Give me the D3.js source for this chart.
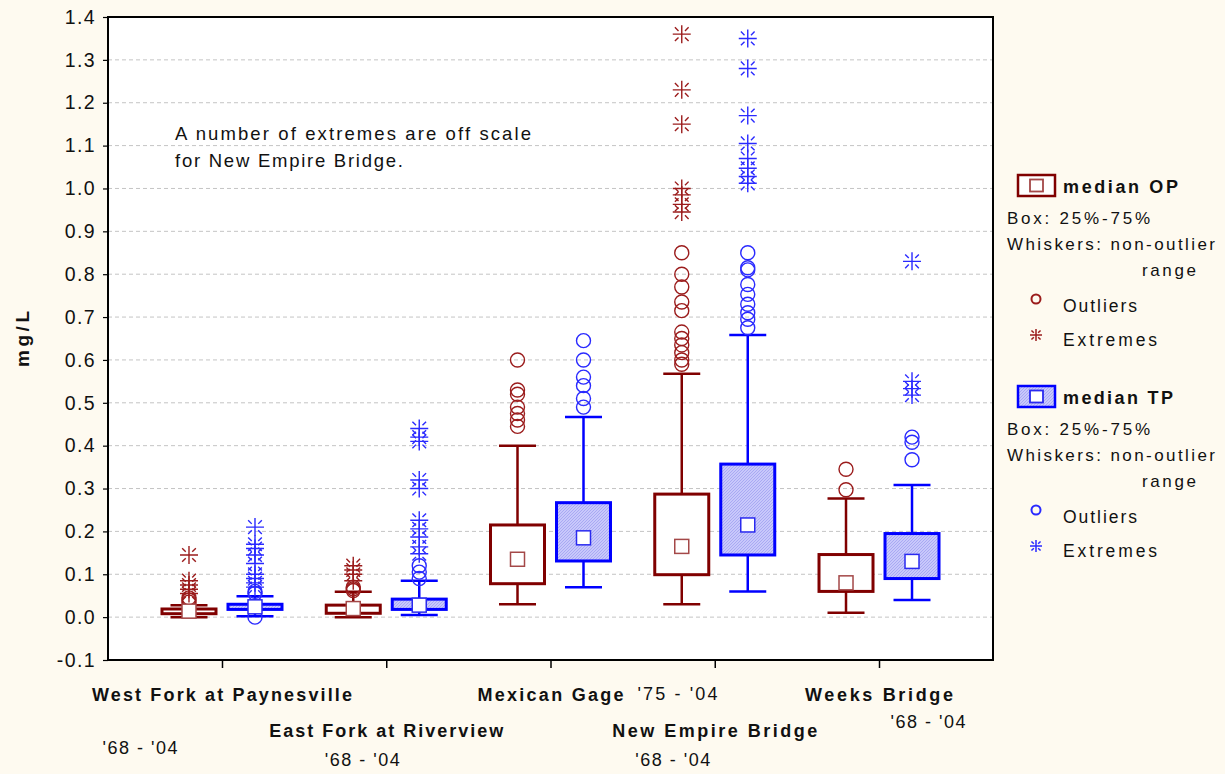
<!DOCTYPE html>
<html>
<head>
<meta charset="utf-8">
<script src="https://cdn.jsdelivr.net/npm/d3@7"></script>
<style>
  html, body { margin: 0; padding: 0; background: #fefaf0; }
  svg { display: block; }
  text { font-family: "Liberation Sans", Arial, sans-serif; fill: #111; }
</style>
</head>
<body>
<svg id="chart" width="1225" height="774"></svg>
<script>
// Sampling sites and their record periods
const sites = ["West Fork at Paynesville", "East Fork at Riverview", "Mexican Gage", "New Empire Bridge", "Weeks Bridge"];
const periods = ["'68 - '04", "'68 - '04", "'75 - '04", "'68 - '04", "'68 - '04"];

// Orthophosphate (OP), mg/L
const opMin    = [0.0,   0.0,   0.03,  0.03,  0.01];
const opQ1     = [0.008, 0.009, 0.078, 0.099, 0.06];
const opMedian = [0.014, 0.02,  0.135, 0.165, 0.08];
const opQ3     = [0.019, 0.028, 0.215, 0.287, 0.146];
const opMax    = [0.028, 0.059, 0.40,  0.568, 0.277];
const opOutliers = [
  [0.035, 0.04, 0.045],
  [0.062, 0.066, 0.07],
  [0.60, 0.53, 0.52, 0.49, 0.475, 0.46, 0.445],
  [0.85, 0.80, 0.77, 0.735, 0.715, 0.665, 0.65, 0.635, 0.617, 0.60, 0.59],
  [0.345, 0.297]
];
const opExtremes = [
  [0.145, 0.085, 0.075, 0.065, 0.055],
  [0.12, 0.11, 0.10, 0.085],
  [],
  [1.36, 1.23, 1.15, 1.0, 0.985, 0.963, 0.945],
  []
];

// Total phosphorus (TP), mg/L
const tpMin    = [0.002, 0.005, 0.07,  0.06,  0.04];
const tpQ1     = [0.018, 0.018, 0.131, 0.145, 0.09];
const tpMedian = [0.024, 0.028, 0.185, 0.215, 0.13];
const tpQ3     = [0.030, 0.042, 0.267, 0.357, 0.195];
const tpMax    = [0.049, 0.085, 0.467, 0.658, 0.308];
const tpOutliers = [
  [0.0, 0.055, 0.06],
  [0.09, 0.105, 0.12],
  [0.645, 0.60, 0.56, 0.54, 0.51, 0.49],
  [0.85, 0.815, 0.81, 0.776, 0.753, 0.73, 0.71, 0.695, 0.675],
  [0.42, 0.408, 0.367]
];
const tpExtremes = [
  [0.21, 0.17, 0.16, 0.145, 0.125, 0.10, 0.09, 0.08, 0.07],
  [0.44, 0.42, 0.41, 0.32, 0.30, 0.226, 0.206, 0.187, 0.164, 0.148],
  [],
  [1.35, 1.28, 1.17, 1.105, 1.07, 1.047, 1.028, 1.012],
  [0.83, 0.55, 0.533, 0.518]
];

const yTicks = [-0.1, 0.0, 0.1, 0.2, 0.3, 0.4, 0.5, 0.6, 0.7, 0.8, 0.9, 1.0, 1.1, 1.2, 1.3, 1.4];

const series = [
  { key: "OP", min: opMin, q1: opQ1, med: opMedian, q3: opQ3, max: opMax, out: opOutliers, ext: opExtremes },
  { key: "TP", min: tpMin, q1: tpQ1, med: tpMedian, q3: tpQ3, max: tpMax, out: tpOutliers, ext: tpExtremes }
];

const style = {
  OP: { line: "#800000", box: "#ffffff", med: "#a44848", marker: "#9b1c1c" },
  TP: { line: "#0000ff", box: "url(#hatch)", med: "#2a2af0", marker: "#2a2aff" }
};

const svg = d3.select("#chart");
const plot = { left: 108, right: 993, top: 17, bottom: 660 };

// text helper: fixed run length, spread by letter spacing
function fit(sel, len) {
  return sel.attr("textLength", len).attr("lengthAdjust", "spacing");
}

// Fine diagonal hatch for the TP boxes
const defs = svg.append("defs");
const pat = defs.append("pattern").attr("id", "hatch").attr("patternUnits", "userSpaceOnUse")
  .attr("width", 3).attr("height", 3);
pat.append("rect").attr("width", 3).attr("height", 3).attr("fill", "#c8c8fb");
pat.append("path").attr("d", "M0,3 L3,0").attr("stroke", "#a6a6f2").attr("stroke-width", 0.9);

const y = d3.scaleLinear().domain([-0.1, 1.4]).range([plot.bottom, plot.top]);
const x = d3.scalePoint().domain(sites).range([plot.left, plot.right]).padding(0.694);
const inner = d3.scalePoint().domain(["OP", "TP"]).range([-33, 33]);

const boxHalf = 27, capHalf = 18.5, medHalf = 7;

// plot background
svg.append("rect").attr("x", plot.left).attr("y", plot.top)
  .attr("width", plot.right - plot.left).attr("height", plot.bottom - plot.top)
  .attr("fill", "#ffffff");

// horizontal grid
svg.append("g").selectAll("line").data(yTicks.slice(1, -1)).join("line")
  .attr("x1", plot.left).attr("x2", plot.right)
  .attr("y1", d => y(d)).attr("y2", d => y(d))
  .attr("stroke", "#c4c4c4").attr("stroke-width", 1).attr("stroke-dasharray", "4,3");

// y axis
const fmt = d3.format(".1f");
const yAxis = svg.append("g").attr("transform", `translate(${plot.left},0)`)
  .call(d3.axisLeft(y).tickValues(yTicks).tickSize(5).tickPadding(9)
    .tickFormat(d => fmt(d).replace("\u2212", "-")));
yAxis.select(".domain").remove();
yAxis.selectAll(".tick line").attr("stroke", "#000").attr("stroke-width", 1.2);
yAxis.selectAll(".tick text").attr("font-size", 19.5).attr("letter-spacing", 1.4)
  .attr("font-family", "Liberation Sans, Arial, sans-serif").attr("fill", "#111").attr("dx", 2);

// x axis ticks
const xAxis = svg.append("g").attr("transform", `translate(0,${plot.bottom})`)
  .call(d3.axisBottom(x).tickSize(8).tickFormat(""));
xAxis.select(".domain").remove();
xAxis.selectAll(".tick line").attr("stroke", "#000").attr("stroke-width", 1.5);

// box plots
series.forEach(s => {
  const st = style[s.key];
  const g = svg.append("g").attr("class", "series-" + s.key);
  sites.forEach((site, i) => {
    const cx = x(site) + inner(s.key);
    // whiskers
    g.append("line").attr("x1", cx).attr("x2", cx).attr("y1", y(s.q3[i])).attr("y2", y(s.max[i]))
      .attr("stroke", st.line).attr("stroke-width", 2.5);
    g.append("line").attr("x1", cx).attr("x2", cx).attr("y1", y(s.q1[i])).attr("y2", y(s.min[i]))
      .attr("stroke", st.line).attr("stroke-width", 2.5);
    [s.max[i], s.min[i]].forEach(v => {
      g.append("line").attr("x1", cx - capHalf).attr("x2", cx + capHalf).attr("y1", y(v)).attr("y2", y(v))
        .attr("stroke", st.line).attr("stroke-width", 2.5);
    });
    // box
    g.append("rect").attr("x", cx - boxHalf).attr("y", y(s.q3[i]))
      .attr("width", boxHalf * 2).attr("height", Math.max(1, y(s.q1[i]) - y(s.q3[i])))
      .attr("fill", st.box).attr("stroke", st.line).attr("stroke-width", 3);
    // outliers
    g.append("g").selectAll("circle").data(s.out[i]).join("circle")
      .attr("cx", cx).attr("cy", d => y(d)).attr("r", 7)
      .attr("fill", "none").attr("stroke", st.marker).attr("stroke-width", 1.4);
    // extremes
    g.append("g").selectAll("path").data(s.ext[i]).join("path")
      .attr("transform", d => `translate(${cx},${y(d)})`)
      .attr("d", asterisk(9))
      .attr("fill", "none").attr("stroke", st.marker).attr("stroke-width", 1.4);
    // median square
    g.append("rect").attr("x", cx - medHalf).attr("y", y(s.med[i]) - medHalf)
      .attr("width", medHalf * 2).attr("height", medHalf * 2)
      .attr("fill", "#ffffff").attr("stroke", st.med).attr("stroke-width", 1.5);
  });
});

function asterisk(r) {
  const a = r * 0.36, b = r * 0.76;
  return `M${-r},0H${r}M0,${-r}V${r}` +
    `M${-a},${-a}L${-b},${-b}M${a},${-a}L${b},${-b}M${-a},${a}L${-b},${b}M${a},${a}L${b},${b}`;
}

// frame
svg.append("rect").attr("x", plot.left).attr("y", plot.top)
  .attr("width", plot.right - plot.left).attr("height", plot.bottom - plot.top)
  .attr("fill", "none").attr("stroke", "#000").attr("stroke-width", 2);

// y label
fit(svg.append("text").attr("transform", "translate(29,339) rotate(-90)")
  .attr("text-anchor", "middle").attr("font-size", 19).attr("font-weight", "bold").text("mg/L"), 56);

// site labels: alternate rows
const siteRowY = [701, 737];
const siteWidth = [260, 234, 146, 205, 148];
sites.forEach((site, i) => {
  fit(svg.append("text").attr("x", x(site)).attr("y", siteRowY[i % 2])
    .attr("text-anchor", "middle").attr("font-size", 18).attr("font-weight", "bold")
    .text(site), siteWidth[i]);
});
// period labels
const periodPlace = [[-82, 754], [-24, 766], [127, 700], [-42, 766], [49, 728]];
periods.forEach((p, i) => {
  fit(svg.append("text").attr("x", x(sites[i]) + periodPlace[i][0]).attr("y", periodPlace[i][1])
    .attr("text-anchor", "middle").attr("font-size", 18).text(p), i === 2 ? 80 : 75);
});

// note
fit(svg.append("text").attr("x", 175).attr("y", 140).attr("font-size", 18.5)
  .text("A number of extremes are off scale"), 356);
fit(svg.append("text").attr("x", 175).attr("y", 167).attr("font-size", 18.5)
  .text("for New Empire Bridge."), 228);

// legend
function legendBlock(key, top) {
  const st = style[key];
  const g = svg.append("g").attr("transform", `translate(0,${top})`);
  g.append("rect").attr("x", 1018).attr("y", 0).attr("width", 37).attr("height", 21)
    .attr("fill", st.box).attr("stroke", st.line).attr("stroke-width", 2.5);
  g.append("rect").attr("x", 1030).attr("y", 4.5).attr("width", 13).attr("height", 12)
    .attr("fill", "#fff").attr("stroke", st.med).attr("stroke-width", 1.8);
  fit(g.append("text").attr("x", 1063).attr("y", 18).attr("font-size", 18).attr("font-weight", "bold")
    .text("median " + key), key === "OP" ? 115 : 110);
  fit(g.append("text").attr("x", 1007).attr("y", 49).attr("font-size", 17).text("Box: 25%-75%"), 143);
  fit(g.append("text").attr("x", 1007).attr("y", 75).attr("font-size", 17).text("Whiskers: non-outlier"), 208);
  fit(g.append("text").attr("x", 1142).attr("y", 101).attr("font-size", 17).text("range"), 54);
  g.append("circle").attr("cx", 1036).attr("cy", 124).attr("r", 4.5)
    .attr("fill", "none").attr("stroke", st.marker).attr("stroke-width", 2);
  fit(g.append("text").attr("x", 1063).attr("y", 137).attr("font-size", 17.5).text("Outliers"), 74);
  g.append("path").attr("transform", "translate(1036,160)").attr("d", asterisk(6))
    .attr("fill", "none").attr("stroke", st.marker).attr("stroke-width", 1.5);
  fit(g.append("text").attr("x", 1063).attr("y", 171).attr("font-size", 17.5).text("Extremes"), 94);
}
legendBlock("OP", 175);
legendBlock("TP", 386);
</script>
</body>
</html>
